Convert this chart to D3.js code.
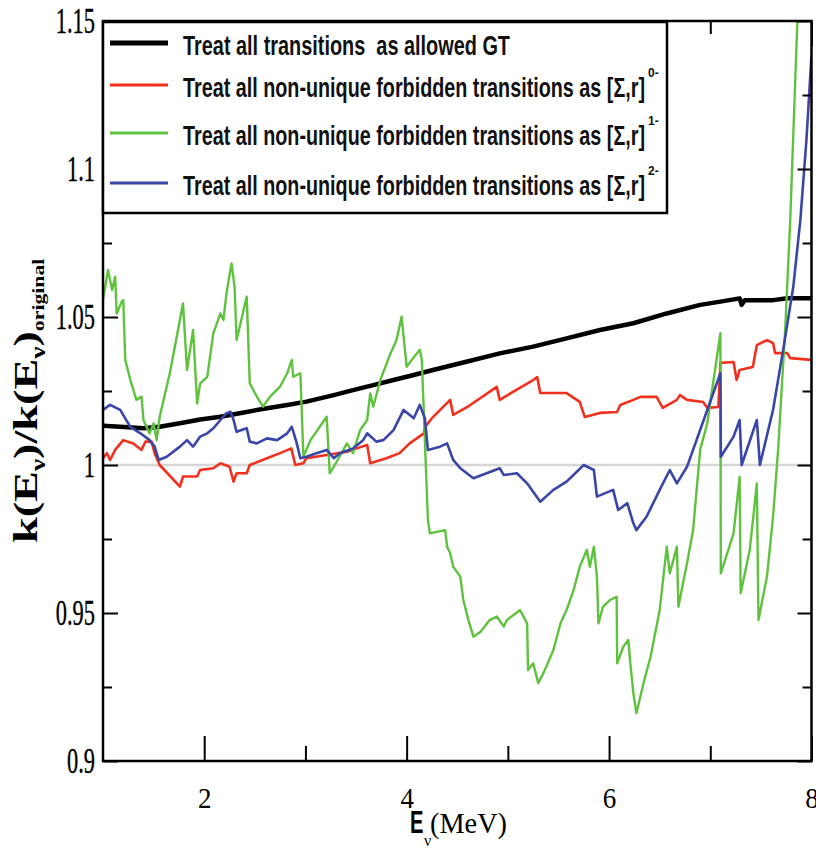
<!DOCTYPE html>
<html>
<head>
<meta charset="utf-8">
<script src="https://cdn.jsdelivr.net/npm/d3@7"></script>
<style>
  body { margin: 0; background: #fff; }
  svg { display: block; }
</style>
</head>
<body>
<script>
/* ratio k(E)/k(E)_original vs neutrino energy, points are [E (MeV), ratio] */
var allowedGT = [
  [1.00, 1.0133], [1.17, 1.0129], [1.40, 1.0124], [1.56, 1.0129], [1.76, 1.0141], [1.96, 1.0154],
  [2.16, 1.0163], [2.35, 1.0175], [2.62, 1.0192], [2.82, 1.0203], [3.01, 1.0214], [3.28, 1.0236],
  [3.47, 1.0253], [3.67, 1.0270], [3.87, 1.0287], [4.07, 1.0304], [4.26, 1.0321], [4.59, 1.0349],
  [4.92, 1.0377], [5.25, 1.0400], [5.58, 1.0428], [5.91, 1.0456], [6.24, 1.0479], [6.57, 1.0512],
  [6.90, 1.0541], [7.10, 1.0552], [7.29, 1.0563], [7.31, 1.0541], [7.34, 1.0557], [7.62, 1.0557],
  [7.76, 1.0563], [8.00, 1.0563]
];
var forbidden0 = [
  [1.00, 1.0023], [1.04, 1.0040], [1.07, 1.0017], [1.12, 1.0051], [1.20, 1.0084], [1.30, 1.0073],
  [1.38, 1.0051], [1.42, 1.0079], [1.48, 1.0079], [1.51, 1.0040], [1.56, 1.0000], [1.76, 0.9927],
  [1.79, 0.9961], [1.93, 0.9961], [1.96, 0.9983], [2.09, 0.9989], [2.16, 1.0006], [2.25, 0.9994],
  [2.29, 0.9944], [2.32, 0.9972], [2.42, 0.9972], [2.45, 1.0000], [2.62, 1.0023], [2.75, 1.0040],
  [2.86, 1.0056], [2.90, 1.0000], [2.98, 1.0006], [3.01, 1.0023], [3.21, 1.0034], [3.41, 1.0045],
  [3.61, 1.0068], [3.64, 1.0006], [3.80, 1.0023], [3.93, 1.0040], [4.03, 1.0073], [4.17, 1.0107],
  [4.18, 1.0128], [4.26, 1.0162], [4.43, 1.0220], [4.46, 1.0169], [4.60, 1.0196], [4.89, 1.0264],
  [4.92, 1.0220], [5.05, 1.0247], [5.25, 1.0287], [5.29, 1.0297], [5.32, 1.0243], [5.58, 1.0243],
  [5.71, 1.0213], [5.76, 1.0162], [5.91, 1.0176], [6.08, 1.0179], [6.11, 1.0203], [6.24, 1.0220],
  [6.31, 1.0230], [6.47, 1.0230], [6.53, 1.0193], [6.67, 1.0220], [6.70, 1.0236], [6.77, 1.0220],
  [6.93, 1.0213], [6.97, 1.0193], [7.08, 1.0196], [7.10, 1.0345], [7.23, 1.0348], [7.26, 1.0287],
  [7.29, 1.0321], [7.42, 1.0331], [7.46, 1.0405], [7.56, 1.0422], [7.62, 1.0412], [7.64, 1.0378],
  [7.76, 1.0378], [7.79, 1.0361], [8.00, 1.0355]
];
var forbidden1 = [
  [1.00, 1.0560], [1.05, 1.0659], [1.09, 1.0591], [1.12, 1.0636], [1.135, 1.0512], [1.185, 1.0552],
  [1.20, 1.0557], [1.22, 1.0355], [1.27, 1.0287], [1.33, 1.0220], [1.38, 1.0231], [1.40, 1.0152],
  [1.43, 1.0129], [1.46, 1.0107], [1.50, 1.0141], [1.53, 1.0084], [1.56, 1.0163], [1.66, 1.0310],
  [1.76, 1.0490], [1.79, 1.0546], [1.83, 1.0321], [1.89, 1.0456], [1.93, 1.0208], [1.96, 1.0276],
  [2.03, 1.0298], [2.09, 1.0445], [2.16, 1.0512], [2.19, 1.0490], [2.22, 1.0580], [2.27, 1.0681],
  [2.30, 1.0602], [2.32, 1.0422], [2.42, 1.0569], [2.45, 1.0276], [2.52, 1.0231], [2.58, 1.0197],
  [2.65, 1.0231], [2.75, 1.0265], [2.82, 1.0310], [2.865, 1.0355], [2.88, 1.0298], [2.95, 1.0310],
  [2.98, 1.0028], [3.05, 1.0084], [3.21, 1.0163], [3.24, 0.9972], [3.28, 0.9994], [3.41, 1.0073],
  [3.47, 1.0040], [3.54, 1.0118], [3.61, 1.0152], [3.64, 1.0242], [3.67, 1.0197], [3.74, 1.0287],
  [3.84, 1.0377], [3.90, 1.0422], [3.95, 1.0501], [4.00, 1.0332], [4.05, 1.0355], [4.13, 1.0389],
  [4.15, 1.0355], [4.21, 0.9814], [4.23, 0.9769], [4.38, 0.9780], [4.40, 0.9724], [4.43, 0.9702],
  [4.46, 0.9656], [4.53, 0.9623], [4.56, 0.9544], [4.61, 0.9476], [4.66, 0.9420], [4.73, 0.9437],
  [4.82, 0.9476], [4.89, 0.9488], [4.96, 0.9454], [4.99, 0.9476], [5.12, 0.9510], [5.19, 0.9465],
  [5.20, 0.9307], [5.25, 0.9330], [5.30, 0.9263], [5.35, 0.9296], [5.38, 0.9319], [5.45, 0.9375],
  [5.52, 0.9465], [5.58, 0.9510], [5.65, 0.9578], [5.71, 0.9656], [5.78, 0.9713], [5.81, 0.9656],
  [5.85, 0.9724], [5.88, 0.9623], [5.895, 0.9465], [5.94, 0.9521], [6.01, 0.9544], [6.075, 0.9555],
  [6.08, 0.9330], [6.14, 0.9386], [6.19, 0.9409], [6.21, 0.9330], [6.24, 0.9229], [6.27, 0.9161],
  [6.34, 0.9263], [6.41, 0.9352], [6.50, 0.9510], [6.57, 0.9724], [6.60, 0.9634], [6.67, 0.9724],
  [6.685, 0.9521], [6.77, 0.9668], [6.83, 0.9780], [6.90, 1.0051], [6.97, 1.0141], [7.10, 1.0445],
  [7.104, 0.9634], [7.23, 0.9769], [7.29, 0.9960], [7.30, 0.9567], [7.39, 0.9713], [7.46, 0.9938],
  [7.476, 0.9476], [7.56, 0.9623], [7.62, 0.9825], [7.67, 1.0051], [7.74, 1.0456], [7.79, 1.0828],
  [7.86, 1.1497], [7.89, 1.1700]
];
var forbidden2 = [
  [1.00, 1.0186], [1.07, 1.0203], [1.17, 1.0186], [1.27, 1.0129], [1.37, 1.0107], [1.46, 1.0084],
  [1.51, 1.0062], [1.55, 1.0017], [1.63, 1.0028], [1.76, 1.0062], [1.83, 1.0084], [1.89, 1.0062],
  [1.96, 1.0096], [2.03, 1.0107], [2.09, 1.0124], [2.16, 1.0152], [2.22, 1.0175], [2.26, 1.0180],
  [2.29, 1.0152], [2.32, 1.0112], [2.42, 1.0124], [2.45, 1.0079], [2.52, 1.0073], [2.62, 1.0090],
  [2.72, 1.0084], [2.82, 1.0107], [2.865, 1.0129], [2.91, 1.0079], [2.95, 1.0023], [3.01, 1.0028],
  [3.11, 1.0040], [3.21, 1.0051], [3.28, 1.0023], [3.34, 1.0040], [3.47, 1.0056], [3.57, 1.0084],
  [3.61, 1.0107], [3.70, 1.0079], [3.77, 1.0084], [3.87, 1.0118], [3.97, 1.0186], [4.07, 1.0158],
  [4.13, 1.0203], [4.18, 1.0158], [4.21, 1.0051], [4.33, 1.0062], [4.40, 1.0073], [4.46, 1.0017],
  [4.53, 0.9989], [4.66, 0.9955], [4.79, 0.9972], [4.92, 0.9989], [4.96, 0.9966], [5.09, 0.9972],
  [5.19, 0.9938], [5.32, 0.9876], [5.45, 0.9916], [5.58, 0.9944], [5.75, 1.0000], [5.85, 0.9983],
  [5.88, 0.9893], [6.04, 0.9916], [6.09, 0.9848], [6.18, 0.9871], [6.24, 0.9803], [6.27, 0.9780],
  [6.37, 0.9825], [6.50, 0.9916], [6.60, 0.9983], [6.67, 0.9938], [6.77, 0.9994], [6.83, 1.0051],
  [6.97, 1.0186], [7.10, 1.0310], [7.104, 1.0028], [7.23, 1.0096], [7.29, 1.0152], [7.31, 1.0000],
  [7.46, 1.0152], [7.49, 1.0000], [7.62, 1.0186], [7.72, 1.0389], [7.82, 1.0602], [7.89, 1.0828],
  [7.95, 1.1098], [8.00, 1.1385]
];

var seriesData = [allowedGT, forbidden0, forbidden1, forbidden2];
var seriesColors = ["#000000", "#f2301e", "#5fc23e", "#3a45a8"];
var seriesWidths = [4.5, 2.6, 2.4, 2.6];
var legendLabels = [
  "Treat all transitions  as allowed GT",
  "Treat all non-unique forbidden transitions as [\u03a3,r]",
  "Treat all non-unique forbidden transitions as [\u03a3,r]",
  "Treat all non-unique forbidden transitions as [\u03a3,r]"
];
var legendSups = ["", "0-", "1-", "2-"];

var xMajorTicks = [2, 4, 6, 8];
var xMinorTicks = [3, 5, 7];
var yMajorTicks = [0.9, 0.95, 1.0, 1.05, 1.1, 1.15];
var yMinorTicks = [0.925, 0.975, 1.025, 1.075, 1.125];
var yTickLabels = ["0.9", "0.95", "1", "1.05", "1.1", "1.15"];

/* Layout */
var width = 816,
    height = 850;
var plotLeft = 103, plotRight = 811.5, plotTop = 21, plotBottom = 761;

var svg = d3.select("body").append("svg")
    .attr("width", width)
    .attr("height", height);

var xScale = d3.scaleLinear().domain([1, 8]).range([plotLeft, plotRight]);
var yScale = d3.scaleLinear().domain([0.9, 1.15]).range([plotBottom, plotTop]);

svg.append("defs").append("clipPath").attr("id", "plotclip")
    .append("rect")
    .attr("x", plotLeft).attr("y", plotTop)
    .attr("width", plotRight - plotLeft).attr("height", plotBottom - plotTop);

// reference line at 1
svg.append("line")
    .attr("x1", xScale(1)).attr("x2", xScale(8))
    .attr("y1", yScale(1)).attr("y2", yScale(1))
    .attr("stroke", "#d6d6d6")
    .attr("stroke-width", 2.5);

var line = d3.line()
    .x(function(d) { return xScale(d[0]); })
    .y(function(d) { return yScale(d[1]); });

svg.append("g")
    .attr("clip-path", "url(#plotclip)")
    .selectAll("path")
    .data(seriesData)
    .enter()
    .append("path")
    .attr("d", line)
    .attr("fill", "none")
    .attr("stroke", function(d, i) { return seriesColors[i]; })
    .attr("stroke-width", function(d, i) { return seriesWidths[i]; })
    .attr("stroke-linejoin", "round");

/* axes: ticks on all four sides, pointing inwards */
function styleAxis(g) {
  g.select(".domain").remove();
  g.selectAll(".tick line").attr("stroke", "#000").attr("stroke-width", 2);
}

svg.append("g").attr("transform", "translate(0," + plotBottom + ")")
    .call(d3.axisBottom(xScale).tickValues(xMajorTicks).tickSize(-25).tickPadding(26)
      .tickFormat(d3.format("d")))
    .call(styleAxis)
    .selectAll("text")
    .attr("font-family", "Liberation Serif, Times New Roman, serif")
    .attr("font-size", 30)
    .attr("fill", "#000")
    .each(function() {
      var w = this.getComputedTextLength();
      d3.select(this).attr("textLength", w * 0.9).attr("lengthAdjust", "spacingAndGlyphs");
    });

svg.append("g").attr("transform", "translate(0," + plotBottom + ")")
    .call(d3.axisBottom(xScale).tickValues(xMinorTicks).tickSize(-15).tickFormat(""))
    .call(styleAxis);

svg.append("g").attr("transform", "translate(0," + plotTop + ")")
    .call(d3.axisTop(xScale).tickValues(xMajorTicks).tickSize(-25).tickFormat(""))
    .call(styleAxis);
svg.append("g").attr("transform", "translate(0," + plotTop + ")")
    .call(d3.axisTop(xScale).tickValues(xMinorTicks).tickSize(-13).tickFormat(""))
    .call(styleAxis);

svg.append("g").attr("transform", "translate(" + plotLeft + ",0)")
    .call(d3.axisLeft(yScale).tickValues(yMajorTicks).tickSize(-15).tickPadding(8)
      .tickFormat(function(d, i) { return yTickLabels[i]; }))
    .call(styleAxis)
    .selectAll("text")
    .attr("font-family", "Liberation Serif, Times New Roman, serif")
    .attr("font-size", 35)
    .attr("fill", "#000")
    .attr("stroke", "#000")
    .attr("stroke-width", 0.4)
    .attr("dy", "0.33em")
    .each(function() {
      var w = this.getComputedTextLength();
      d3.select(this).attr("textLength", w * 0.64).attr("lengthAdjust", "spacingAndGlyphs");
    });

svg.append("g").attr("transform", "translate(" + plotLeft + ",0)")
    .call(d3.axisLeft(yScale).tickValues(yMinorTicks).tickSize(-9).tickFormat(""))
    .call(styleAxis);
svg.append("g").attr("transform", "translate(" + plotRight + ",0)")
    .call(d3.axisRight(yScale).tickValues(yMajorTicks).tickSize(-14).tickFormat(""))
    .call(styleAxis);
svg.append("g").attr("transform", "translate(" + plotRight + ",0)")
    .call(d3.axisRight(yScale).tickValues(yMinorTicks).tickSize(-9).tickFormat(""))
    .call(styleAxis);

// frame
svg.append("rect")
    .attr("x", plotLeft).attr("y", plotTop)
    .attr("width", plotRight - plotLeft).attr("height", plotBottom - plotTop)
    .attr("fill", "none")
    .attr("stroke", "#000")
    .attr("stroke-width", 2.5);

/* legend */
var legendRowY = [43, 85, 133, 183];
var legendWidths = [327, 462, 462, 462];

svg.append("rect")
    .attr("x", plotLeft).attr("y", 22)
    .attr("width", 564).attr("height", 191)
    .attr("fill", "#fff")
    .attr("stroke", "#000")
    .attr("stroke-width", 2.5);

var legendRows = svg.selectAll("g.legend-row")
    .data(legendLabels)
    .enter()
    .append("g")
    .attr("class", "legend-row")
    .attr("transform", function(d, i) { return "translate(0," + legendRowY[i] + ")"; });

legendRows.append("line")
    .attr("x1", 110).attr("x2", 168)
    .attr("y1", 0).attr("y2", 0)
    .attr("stroke", function(d, i) { return seriesColors[i]; })
    .attr("stroke-width", function(d, i) { return i == 0 ? 5 : 3; });

legendRows.append("text")
    .attr("x", 183)
    .attr("y", 12)
    .attr("font-family", "Liberation Sans Narrow, Liberation Sans, Arial, sans-serif")
    .attr("font-weight", "bold")
    .attr("font-size", 27)
    .attr("fill", "#111")
    .style("white-space", "pre")
    .attr("textLength", function(d, i) { return legendWidths[i]; })
    .attr("lengthAdjust", "spacingAndGlyphs")
    .text(function(d) { return d; });

legendRows.append("text")
    .attr("x", 648)
    .attr("y", -8)
    .attr("font-family", "Liberation Sans Narrow, Liberation Sans, Arial, sans-serif")
    .attr("font-weight", "bold")
    .attr("font-size", 12)
    .attr("fill", "#111")
    .text(function(d, i) { return legendSups[i]; });

/* axis titles */
var xt = svg.append("g");
xt.append("text")
    .attr("transform", "translate(410,833) scale(0.65,1)")
    .attr("font-family", "Liberation Sans, Arial, sans-serif")
    .attr("font-weight", "bold")
    .attr("font-size", 31)
    .text("E");
xt.append("text")
    .attr("x", 424).attr("y", 846)
    .attr("font-family", "Liberation Serif, Times New Roman, serif")
    .attr("font-size", 16)
    .text("\u03bd");
xt.append("text")
    .attr("x", 430).attr("y", 833)
    .attr("font-family", "Liberation Serif, Times New Roman, serif")
    .attr("font-size", 30)
    .attr("textLength", 77)
    .attr("lengthAdjust", "spacingAndGlyphs")
    .text("(MeV)");

var yt = svg.append("g")
    .attr("transform", "translate(37,543) rotate(-90) scale(1.36,1)")
    .attr("font-family", "Liberation Serif, Times New Roman, serif")
    .attr("font-weight", "bold");
var ytText = yt.append("text").attr("font-size", 34);
ytText.append("tspan").text("k(E");
ytText.append("tspan").attr("font-size", 20).attr("dy", 8).text("\u03bd");
ytText.append("tspan").attr("dy", -8).text(")/k(E");
ytText.append("tspan").attr("font-size", 20).attr("dy", 8).text("\u03bd");
ytText.append("tspan").attr("dy", -8).text(")");
ytText.append("tspan").attr("font-size", 16).attr("dy", 7).text("original");
</script>
</body>
</html>
